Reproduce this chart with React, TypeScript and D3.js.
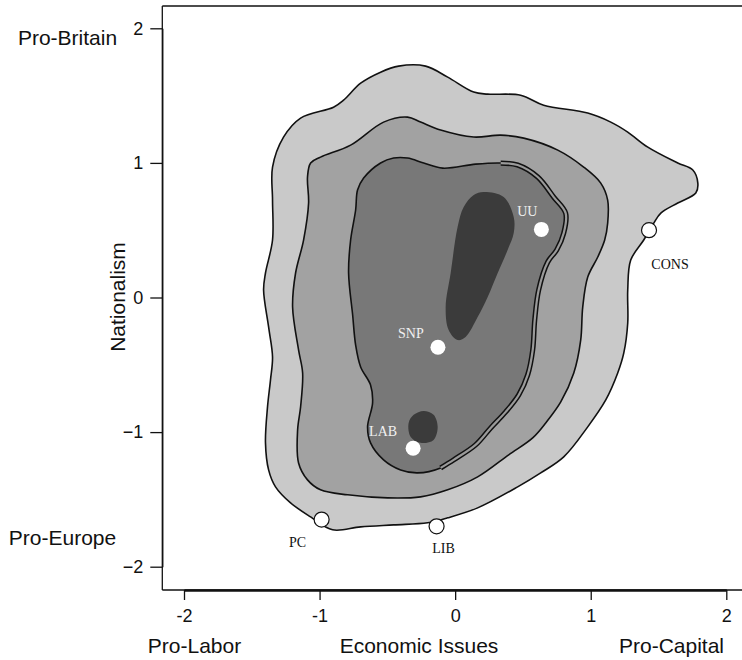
import React, { useEffect, useRef } from 'react';
import * as d3 from 'd3';

// Party positions (economic issues, nationalism)
const partyNames = ['UU', 'SNP', 'LAB', 'PC', 'LIB', 'CONS'];
const partyX = [0.636, -0.127, -0.31, -0.985, -0.137, 1.43];
const partyY = [0.506, -0.37, -1.12, -1.65, -1.70, 0.50];

const xTicks = [-2, -1, 0, 1, 2];
const yTicks = [-2, -1, 0, 1, 2];

// Density contour outlines, in data units [economic, nationalism]
const contourOuter: [number, number][] = [
  [-1.347, 0.969], [-1.266, 1.191], [-1.14, 1.333], [-0.897, 1.414], [-0.823, 1.466],
  [-0.697, 1.592], [-0.55, 1.674], [-0.417, 1.719], [-0.218, 1.719], [-0.055, 1.637],
  [0.137, 1.526], [0.24, 1.511], [0.483, 1.503], [0.653, 1.429], [0.978, 1.37],
  [1.148, 1.303], [1.273, 1.229], [1.421, 1.117], [1.642, 0.999], [1.753, 0.947],
  [1.79, 0.85], [1.775, 0.776], [1.642, 0.702], [1.517, 0.627], [1.465, 0.553],
  [1.391, 0.427], [1.295, 0.278], [1.273, 0.056], [1.273, -0.189], [1.244, -0.412],
  [1.199, -0.561], [1.111, -0.761], [0.978, -0.961], [0.801, -1.184], [0.631, -1.303],
  [0.461, -1.407], [0.166, -1.563], [-0.055, -1.637], [-0.203, -1.674], [-0.454, -1.689],
  [-0.697, -1.704], [-0.904, -1.726], [-1.066, -1.63], [-1.214, -1.526], [-1.325, -1.407],
  [-1.376, -1.281], [-1.399, -1.08], [-1.384, -0.813], [-1.362, -0.612], [-1.347, -0.442],
  [-1.376, -0.219], [-1.413, 0.056], [-1.399, 0.182], [-1.347, 0.427], [-1.347, 0.724],
];

const contourMid: [number, number][] = [
  [-1.089, 0.895], [-1.066, 0.999], [-0.993, 1.043], [-0.771, 1.132], [-0.528, 1.303],
  [-0.351, 1.34], [-0.255, 1.303], [-0.107, 1.244], [0.137, 1.192], [0.336, 1.206],
  [0.506, 1.184], [0.757, 1.095], [0.948, 0.969], [1.074, 0.85], [1.125, 0.724],
  [1.125, 0.553], [1.103, 0.427], [1.052, 0.301], [0.978, 0.152], [0.941, -0.071],
  [0.926, -0.316], [0.875, -0.561], [0.779, -0.776], [0.668, -0.932], [0.572, -1.043],
  [0.395, -1.169], [0.166, -1.333], [-0.055, -1.429], [-0.255, -1.481], [-0.498, -1.489],
  [-0.793, -1.466], [-0.993, -1.429], [-1.089, -1.355], [-1.155, -1.229], [-1.162, -0.984],
  [-1.14, -0.813], [-1.125, -0.561], [-1.155, -0.39], [-1.199, -0.071], [-1.177, 0.182],
  [-1.118, 0.427], [-1.081, 0.702],
];

const contourInner: [number, number][] = [
  [-0.72, 0.798], [-0.675, 0.887], [-0.55, 0.999], [-0.454, 1.036], [-0.351, 1.036],
  [-0.232, 0.999], [-0.092, 0.961], [0.151, 0.991], [0.336, 0.999], [0.461, 0.984],
  [0.609, 0.895], [0.727, 0.746], [0.815, 0.627], [0.801, 0.479], [0.749, 0.353],
  [0.683, 0.264], [0.616, 0.056], [0.587, -0.167], [0.572, -0.39], [0.535, -0.575],
  [0.469, -0.724], [0.373, -0.85], [0.262, -0.969], [0.151, -1.095], [-0.011, -1.206],
  [-0.107, -1.266], [-0.277, -1.303], [-0.402, -1.281], [-0.528, -1.206], [-0.624, -1.08],
  [-0.646, -0.961], [-0.609, -0.783], [-0.624, -0.65], [-0.697, -0.516], [-0.734, -0.353],
  [-0.756, -0.13], [-0.786, 0.182], [-0.771, 0.427], [-0.734, 0.65],
];

const peakUpper: [number, number][] = [
  [0.21, 0.783], [0.358, 0.746], [0.432, 0.598], [0.432, 0.479], [0.387, 0.353],
  [0.314, 0.182], [0.24, 0.004], [0.166, -0.145], [0.077, -0.293], [0.018, -0.316],
  [-0.048, -0.241], [-0.07, -0.071], [-0.033, 0.182], [0.018, 0.523], [0.063, 0.672],
  [0.137, 0.761],
];

const peakLower: [number, number][] = [
  [-0.306, -0.872], [-0.232, -0.843], [-0.159, -0.872], [-0.129, -0.961], [-0.159, -1.058],
  [-0.255, -1.08], [-0.328, -1.036], [-0.343, -0.932],
];

// label placement relative to the marker, pixels
const labelOffset: Record<string, [number, number, string]> = {
  UU: [-14, -13, '#f0f0f0'],
  SNP: [-27, -9, '#f0f0f0'],
  LAB: [-30, -12, '#f0f0f0'],
  PC: [-24, 27, '#111'],
  LIB: [7, 27, '#111'],
  CONS: [21, 39, '#111'],
};

const App: React.FC = () => {
  const svgRef = useRef<SVGSVGElement>(null);
  const WIDTH = 742;
  const HEIGHT = 660;
  const LEFT = 162.3;
  const BOTTOM = 590;
  const TOP = 6;

  useEffect(() => {
    if (!svgRef.current) return;
    const svg = d3.select(svgRef.current);
    svg.selectAll('*').remove();

    const x = d3.scaleLinear().domain([-2, 2]).range([184, 726.3]);
    const y = d3.scaleLinear().domain([-2, 2]).range([566.7, 28.3]);

    const area = d3.line<[number, number]>()
      .x(d => x(d[0]))
      .y(d => y(d[1]))
      .curve(d3.curveCatmullRomClosed.alpha(0.5));

    const openLine = d3.line<[number, number]>()
      .x(d => x(d[0]))
      .y(d => y(d[1]))
      .curve(d3.curveCatmullRom.alpha(0.5));

    const g = svg.append('g');

    // contour bands, outermost first
    const bands: [[number, number][], string][] = [
      [contourOuter, '#c9c9c9'],
      [contourMid, '#a2a2a2'],
      [contourInner, '#787878'],
    ];
    bands.forEach(([pts, fill]) => {
      g.append('path')
        .attr('d', area(pts))
        .attr('fill', fill)
        .attr('stroke', '#111')
        .attr('stroke-width', 1.6)
        .attr('stroke-linejoin', 'round');
    });

    // the doubled edge on the right of the inner band
    const ridge = contourInner.slice(8, 26);
    g.append('path')
      .attr('d', openLine(ridge))
      .attr('fill', 'none')
      .attr('stroke', '#111')
      .attr('stroke-width', 5.2);
    g.append('path')
      .attr('d', openLine(ridge))
      .attr('fill', 'none')
      .attr('stroke', '#9a9a9a')
      .attr('stroke-width', 2.2);

    [peakUpper, peakLower].forEach(pts => {
      g.append('path')
        .attr('d', area(pts))
        .attr('fill', '#3b3b3b');
    });

    // parties
    partyNames.forEach((name, i) => {
      const cx = x(partyX[i]);
      const cy = y(partyY[i]);
      const [ox, oy, col] = labelOffset[name];
      const inside = col !== '#111';
      g.append('circle')
        .attr('cx', cx)
        .attr('cy', cy)
        .attr('r', 7.5)
        .attr('fill', '#fff')
        .attr('stroke', inside ? 'none' : '#111')
        .attr('stroke-width', 1.2);
      g.append('text')
        .attr('x', cx + ox)
        .attr('y', cy + oy)
        .attr('text-anchor', 'middle')
        .attr('font-family', '"Liberation Serif", "Times New Roman", serif')
        .attr('font-size', 14)
        .attr('fill', col)
        .text(name);
    });

    // frame
    svg.append('line')
      .attr('x1', LEFT).attr('x2', WIDTH + 5)
      .attr('y1', TOP).attr('y2', TOP)
      .attr('stroke', '#111').attr('stroke-width', 1.3);
    svg.append('line')
      .attr('x1', LEFT).attr('x2', LEFT)
      .attr('y1', TOP).attr('y2', BOTTOM)
      .attr('stroke', '#111').attr('stroke-width', 1.3);
    svg.append('line')
      .attr('x1', LEFT).attr('x2', WIDTH + 5)
      .attr('y1', BOTTOM).attr('y2', BOTTOM)
      .attr('stroke', '#111').attr('stroke-width', 1.3);

    const font = '"Liberation Sans", Arial, sans-serif';

    const xAxis = svg.append('g')
      .attr('transform', `translate(0,${BOTTOM})`)
      .call(d3.axisBottom(x).tickValues(xTicks).tickSize(10).tickSizeOuter(0).tickPadding(9).tickFormat(d => String(d)));
    xAxis.select('.domain').attr('stroke', '#111').attr('stroke-width', 2.6);
    xAxis.selectAll('.tick line').attr('stroke', '#111').attr('stroke-width', 1.3);
    xAxis.selectAll('text').attr('font-family', font).attr('font-size', 18).attr('fill', '#111');

    const yAxis = svg.append('g')
      .attr('transform', `translate(${LEFT},0)`)
      .call(d3.axisLeft(y).tickValues(yTicks).tickSize(12).tickSizeOuter(0).tickPadding(7).tickFormat(d3.format('d')));
    yAxis.select('.domain').attr('stroke', '#111').attr('stroke-width', 1.3);
    yAxis.selectAll('.tick line').attr('stroke', '#111').attr('stroke-width', 1.3);
    yAxis.selectAll('text').attr('font-family', font).attr('font-size', 18).attr('fill', '#111');

    const label = (tx: number, ty: number, s: string, rot = false) => {
      const t = svg.append('text')
        .attr('text-anchor', 'middle')
        .attr('font-family', font)
        .attr('font-size', 21)
        .attr('fill', '#111')
        .text(s);
      if (rot) t.attr('transform', `translate(${tx},${ty}) rotate(-90)`);
      else t.attr('x', tx).attr('y', ty);
    };
    label(67.5, 45, 'Pro-Britain');
    label(62.5, 545, 'Pro-Europe');
    label(125, 297, 'Nationalism', true);
    label(194.5, 653, 'Pro-Labor');
    label(419, 653, 'Economic Issues');
    label(671.5, 653, 'Pro-Capital');
  }, []);

  return (
    <svg
      ref={svgRef}
      width={WIDTH}
      height={HEIGHT}
      viewBox={`0 0 ${WIDTH} ${HEIGHT}`}
      style={{ position: 'absolute', left: 0, top: 0, background: '#fff' }}
    />
  );
};

export default App;
